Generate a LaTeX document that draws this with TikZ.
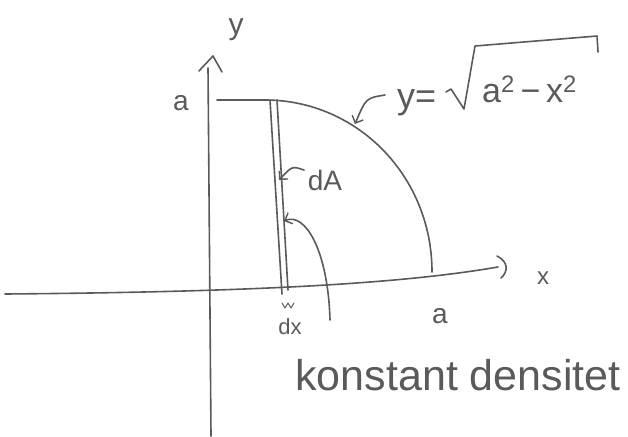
\documentclass[tikz,border=0pt]{standalone}
\usepackage{fontspec}
\setmainfont{Liberation Sans}
\usetikzlibrary{arrows.meta}
\definecolor{pencil}{RGB}{90,90,90}
\tikzset{
  pen/.style={draw=pencil, line width=1.6pt, line cap=round, line join=round},
  barb/.style={pen, -{Straight Barb[length=6pt,width=12pt,line width=1.4pt]}},
  lbl/.style={text=pencil, inner sep=0pt, font=\fontsize{#1}{#1}\selectfont},
}
\begin{document}
\begin{tikzpicture}[x=1pt,y=-1pt]
\useasboundingbox (0,0) rectangle (628,436);
\fill[white] (0,0) rectangle (628,436);
% axes
\coordinate (ytop) at (208,68);
\coordinate (ybot) at (211,436);
\draw[pen] (ytop) -- (ybot);
\draw[pen] (199,71) -- (213,56) -- (222,72);
\coordinate (xl) at (5,294);
\coordinate (xr) at (498,267);
\draw[pen] (xl) .. controls (250,292) and (400,284) .. (xr);
\draw[pen] (497,256) .. controls (509,262) and (508,272) .. (501,278);
% region
\coordinate (top) at (217,100);
\coordinate (apex) at (265,100);
\coordinate (aend) at (432,272);
\draw[pen] (top) -- (apex) .. controls (357,100) and (432,176) .. (aend);
% strip
\coordinate (s1t) at (270,100); \coordinate (s1b) at (282,294);
\coordinate (s2t) at (277,100); \coordinate (s2b) at (288,290);
\draw[pen] (s1t) -- (s1b);
\draw[pen] (s2t) -- (s2b);
\draw[pen, line width=1pt] (282,303) -- (285,308) -- (288,303) -- (291,308) -- (294,303);
% labels
\node[lbl=30] (ylab) at (236,30) {y};
\node[lbl=28] (alab) at (181,103) {a};
\node[lbl=24] (xlab) at (543,278) {x};
\node[lbl=28] (a2lab) at (440,316) {a};
\node[lbl=28] (dA) at (325,180) {dA};
\node[lbl=22] (dx) at (290,327) {dx};
\node[lbl=40, anchor=base] (konst) at (458,390) {\fontsize{43}{43}\selectfont konstant densitet};
% equation
\node[lbl=36, anchor=base west] (eqL) at (397,108) {y=};
\node[lbl=34, anchor=base west] (eqR) at (482,102) {a\textsuperscript{2}\,−\,x\textsuperscript{2}};
\draw[pen] (446,92) -- (451,89) -- (464,109) -- (475,46) -- (597,36) -- (598,52);
% pointers
\coordinate (dAs) at (304,170); \coordinate (dAe) at (279,180);
\draw[barb] (dAs) .. controls (292,166) .. (dAe);
\coordinate (eqs) at (385,95); \coordinate (eqe) at (355,124);
\draw[barb] (eqs) .. controls (366,98) .. (eqe);
\coordinate (ks) at (330,320); \coordinate (ke) at (284,221);
\draw[barb] (ks) .. controls (328,250) and (305,212) .. (ke);
\end{tikzpicture}
\end{document}
